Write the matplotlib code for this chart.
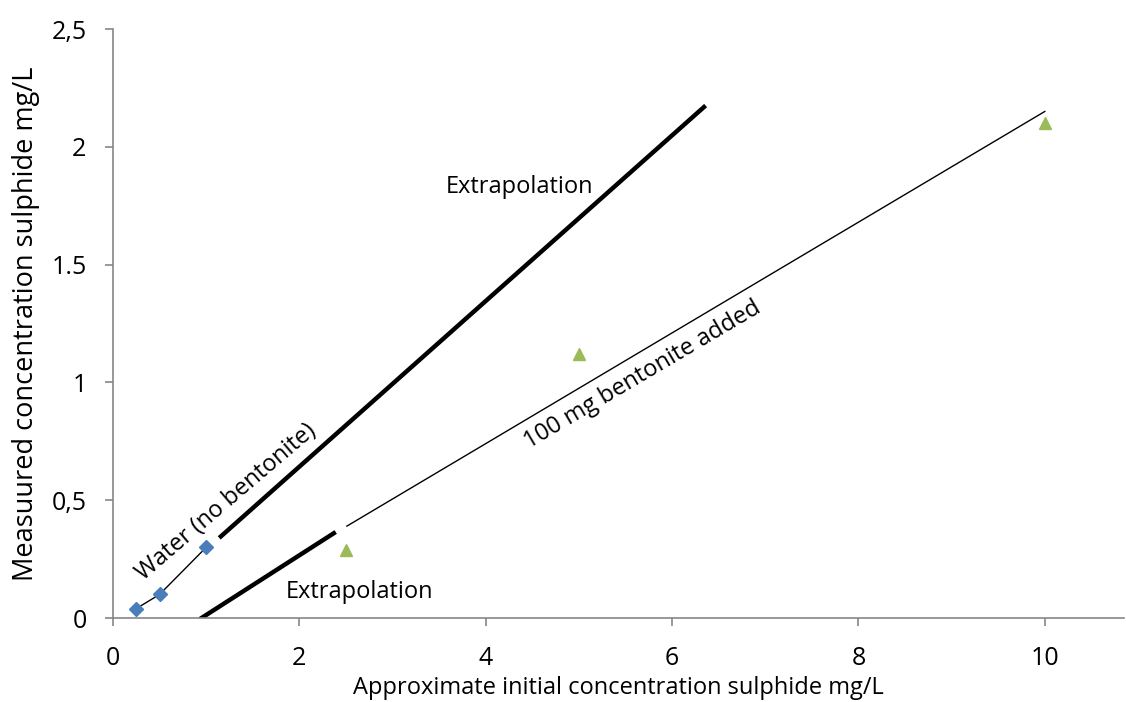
import matplotlib.pyplot as plt

# measured points
water_x = [0.25, 0.5, 1.0]
water_y = [0.04, 0.10, 0.30]
bent_x = [2.5, 5.0, 10.0]
bent_y = [0.29, 1.12, 2.10]

# fitted lines (thin = within data, thick = extrapolation)
water_ext_x = [1.14, 6.36]
water_ext_y = [0.34, 2.175]
bent_fit_x = [2.51, 10.0]
bent_fit_y = [0.39, 2.15]
bent_ext_x = [0.93, 2.39]
bent_ext_y = [-0.005, 0.365]

yticks = [0, 0.5, 1, 1.5, 2, 2.5]
ytick_labels = ['0', '0,5', '1', '1.5', '2', '2,5']
xticks = [0, 2, 4, 6, 8, 10]

plt.rcParams['font.family'] = ['Open Sans', 'DejaVu Sans']

fig = plt.figure(figsize=(11.26, 7.02), dpi=100)
ax = fig.add_axes([113 / 1126, 84 / 702, 1011 / 1126, 589 / 702])

ax.plot(water_x, water_y, color='black', lw=1.0, zorder=2)
ax.plot(water_x, water_y, ls='none', marker='D', ms=7, color='#4a7ebb', zorder=3)
ax.plot(water_ext_x, water_ext_y, color='black', lw=3.2, solid_capstyle='butt')

ax.plot(bent_fit_x, bent_fit_y, color='black', lw=1.0)
ax.plot(bent_ext_x, bent_ext_y, color='black', lw=3.2, solid_capstyle='butt')
ax.plot(bent_x, bent_y, ls='none', marker='^', ms=9, color='#9bbb59', zorder=3)

ax.text(4.36, 1.83, 'Extrapolation', fontsize=17, ha='center', va='center')
ax.text(2.645, 0.11, 'Extrapolation', fontsize=17, ha='center', va='center')
ax.text(1.22, 0.49, 'Water (no bentonite)', fontsize=17, ha='center', va='center',
        rotation=40.5, rotation_mode='anchor')
ax.text(5.68, 1.03, '100 mg bentonite added', fontsize=17, ha='center', va='center',
        rotation=30.5, rotation_mode='anchor')

ax.set_xlim(0, 10.85)
ax.set_ylim(0, 2.5)
ax.set_xticks(xticks)
ax.set_yticks(yticks)
ax.set_yticklabels(ytick_labels)

for s in ['top', 'right']:
    ax.spines[s].set_visible(False)
for s in ['left', 'bottom']:
    ax.spines[s].set_color('#868686')
    ax.spines[s].set_linewidth(1.2)
ax.tick_params(axis='both', direction='out', length=6, width=1.2, color='#868686',
               labelsize=18)
ax.tick_params(axis='y', pad=13)
ax.tick_params(axis='x', pad=14)

ax.set_xlabel('Approximate initial concentration sulphide mg/L', fontsize=17, labelpad=4)
ax.set_ylabel('Measuured concentration sulphide mg/L', fontsize=19.5, labelpad=8)

fig.savefig('out.png', dpi=100)
